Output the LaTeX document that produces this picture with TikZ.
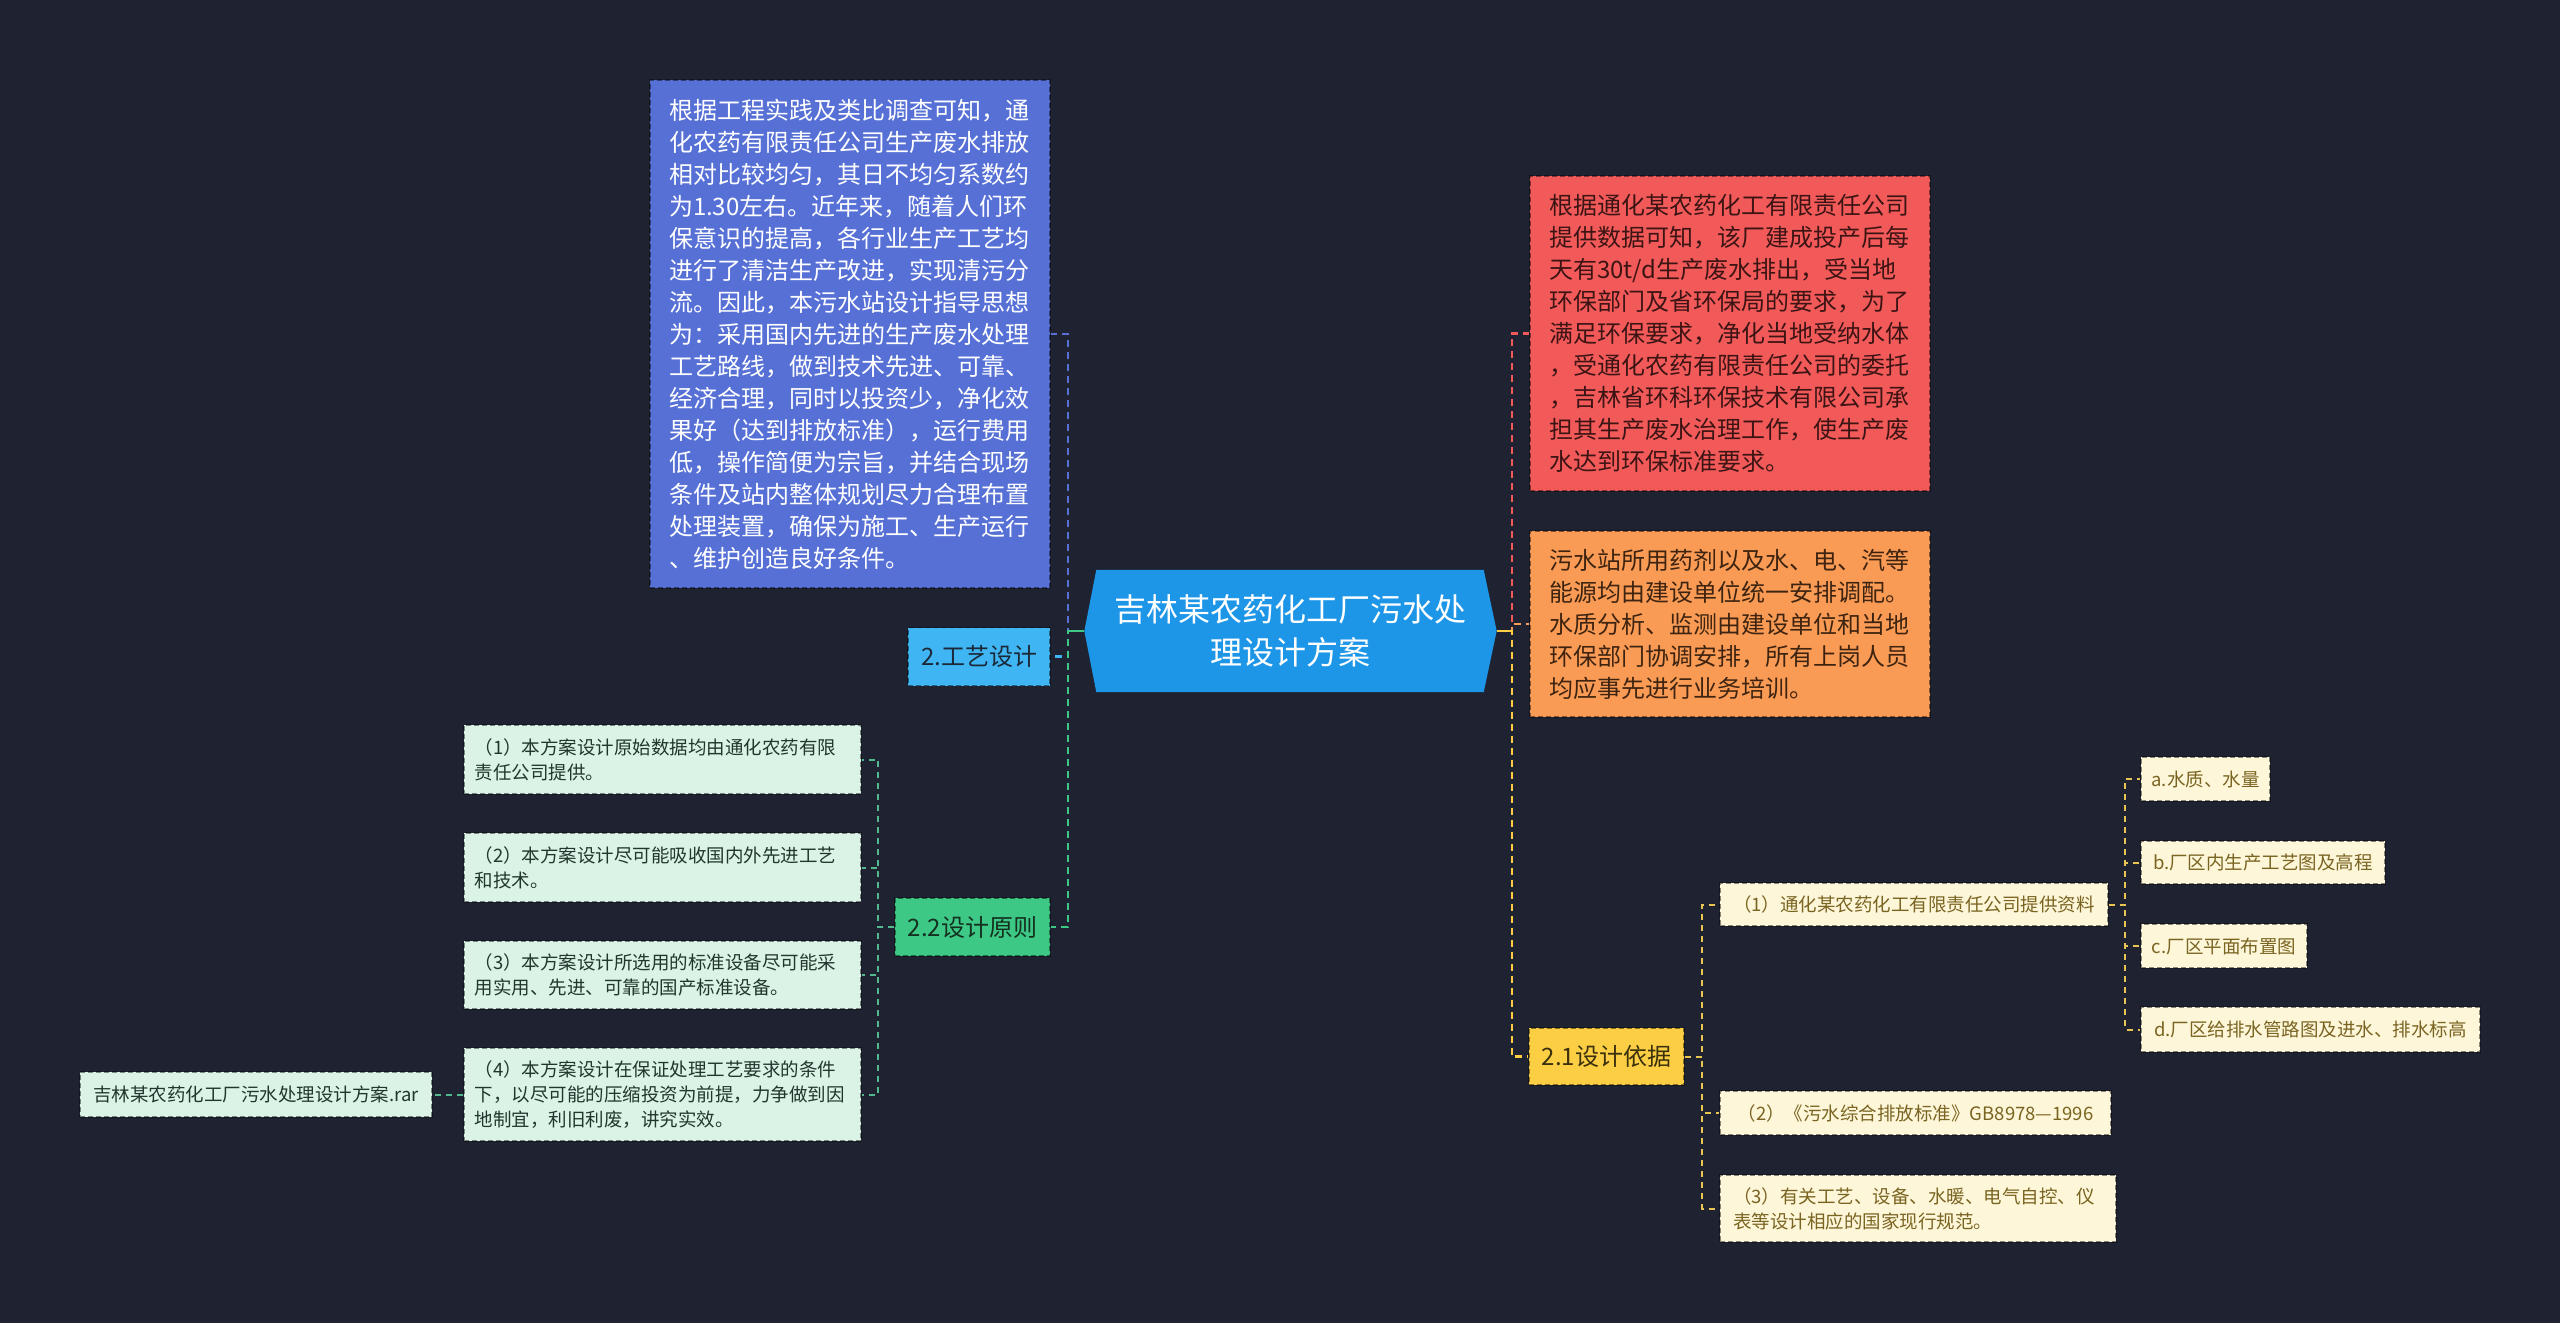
\documentclass[tikz,border=0pt]{standalone}
\usepackage{fontspec}
\setmainfont{Noto Sans CJK SC}
\definecolor{bgc}{HTML}{1F2230}
\definecolor{rootc}{HTML}{1E96E8}
\definecolor{bluec}{HTML}{5670D6}
\definecolor{lbluec}{HTML}{3FB6F3}
\definecolor{greenc}{HTML}{3EC886}
\definecolor{mintc}{HTML}{DAF3E6}
\definecolor{mintl}{HTML}{52B98E}
\definecolor{redc}{HTML}{F25A5A}
\definecolor{orangec}{HTML}{F99B55}
\definecolor{yellowc}{HTML}{FBCE44}
\definecolor{creamc}{HTML}{FDF6D8}
\definecolor{creaml}{HTML}{E8C552}
\definecolor{oliveT}{HTML}{7A6422}
\definecolor{lblueT}{HTML}{1B2838}
\definecolor{greenT}{HTML}{14301F}
\definecolor{mintT}{HTML}{21362C}
\definecolor{redT}{HTML}{3D1414}
\definecolor{orangeT}{HTML}{3E2410}
\definecolor{yellowT}{HTML}{3A300C}
\begin{document}
\begin{tikzpicture}[x=1pt,y=-1pt,
  box/.style={rectangle, inner sep=0pt, draw=black, draw opacity=0.45, line width=1.5pt, dash pattern=on 5pt off 3pt},
  big/.style={box, align=left, text width=362pt, font=\fontsize{24}{32}\selectfont},
  mid/.style={box, align=center, font=\fontsize{24}{30}\selectfont},
  small/.style={box, align=left, font=\fontsize{18.5}{25}\selectfont},
  conn/.style={line width=2.5pt, dash pattern=on 7pt off 5pt},
  sconn/.style={line width=2pt, dash pattern=on 6pt off 5pt}]
\fill[bgc] (0,0) rectangle (2560,1323);
\useasboundingbox (0,0) rectangle (2560,1323);

% root
\node[minimum width=412pt, minimum height=122pt, inner sep=0pt] (root) at (1290.5,631) {};
\fill[rootc] ([xshift=12pt]root.north west) -- ([xshift=-13pt]root.north east) -- (root.east)
  -- ([xshift=-13pt]root.south east) -- ([xshift=12pt]root.south west) -- (root.west) -- cycle;
\node[align=center, text=white, font=\fontsize{32}{43}\selectfont] (roottext) at (root.center) {吉林某农药化工厂污水处\\理设计方案};

% left side
\node[big, fill=bluec, text=white, minimum width=400pt, minimum height=508pt] (blue) at (850,334) {根据工程实践及类比调查可知，通\\化农药有限责任公司生产废水排放\\相对比较均匀，其日不均匀系数约\\为1.30左右。近年来，随着人们环\\保意识的提高，各行业生产工艺均\\进行了清洁生产改进，实现清污分\\流。因此，本污水站设计指导思想\\为：采用国内先进的生产废水处理\\工艺路线，做到技术先进、可靠、\\经济合理，同时以投资少，净化效\\果好（达到排放标准），运行费用\\低，操作简便为宗旨，并结合现场\\条件及站内整体规划尽力合理布置\\处理装置，确保为施工、生产运行\\、维护创造良好条件。};
\node[mid, fill=lbluec, text=lblueT, minimum width=142pt, minimum height=58pt] (n2) at (979,656.5) {2.工艺设计};
\node[mid, fill=greenc, text=greenT, minimum width=155pt, minimum height=58pt] (n22) at (972.5,927) {2.2设计原则};

\node[small, fill=mintc, text=mintT, text width=376pt, minimum width=397pt, minimum height=69pt] (g1) at (662.5,759.5) {（1）本方案设计原始数据均由通化农药有限\\责任公司提供。};
\node[small, fill=mintc, text=mintT, text width=376pt, minimum width=397pt, minimum height=69pt] (g2) at (662.5,867.5) {（2）本方案设计尽可能吸收国内外先进工艺\\和技术。};
\node[small, fill=mintc, text=mintT, text width=376pt, minimum width=397pt, minimum height=68pt] (g3) at (662.5,975) {（3）本方案设计所选用的标准设备尽可能采\\用实用、先进、可靠的国产标准设备。};
\node[small, fill=mintc, text=mintT, text width=376pt, minimum width=397pt, minimum height=93pt] (g4) at (662.5,1094.5) {（4）本方案设计在保证处理工艺要求的条件\\下，以尽可能的压缩投资为前提，力争做到因\\地制宜，利旧利废，讲究实效。};
\node[small, fill=mintc, text=mintT, align=center, minimum width=352pt, minimum height=45pt] (rar) at (256,1094.5) {吉林某农药化工厂污水处理设计方案.rar};

% right side
\node[big, fill=redc, text=redT, minimum width=400pt, minimum height=315pt] (red) at (1730,333.5) {根据通化某农药化工有限责任公司\\提供数据可知，该厂建成投产后每\\天有30t/d生产废水排出，受当地\\环保部门及省环保局的要求，为了\\满足环保要求，净化当地受纳水体\\，受通化农药有限责任公司的委托\\，吉林省环科环保技术有限公司承\\担其生产废水治理工作，使生产废\\水达到环保标准要求。};
\node[big, fill=orangec, text=orangeT, minimum width=400pt, minimum height=186pt] (orange) at (1730,624) {污水站所用药剂以及水、电、汽等\\能源均由建设单位统一安排调配。\\水质分析、监测由建设单位和当地\\环保部门协调安排，所有上岗人员\\均应事先进行业务培训。};
\node[mid, fill=yellowc, text=yellowT, minimum width=155pt, minimum height=57pt] (n21) at (1606.5,1056.5) {2.1设计依据};

\node[small, fill=creamc, text=oliveT, align=center, minimum width=388pt, minimum height=43pt] (s1) at (1914,904.5) {（1）通化某农药化工有限责任公司提供资料};
\node[small, fill=creamc, text=oliveT, align=center, minimum width=391pt, minimum height=44pt] (s2) at (1915.5,1113) {（2）《污水综合排放标准》GB8978—1996};
\node[small, fill=creamc, text=oliveT, text width=370pt, minimum width=396pt, minimum height=67pt] (s3) at (1918,1208.5) {（3）有关工艺、设备、水暖、电气自控、仪\\表等设计相应的国家现行规范。};
\node[small, fill=creamc, text=oliveT, align=center, minimum width=129pt, minimum height=44pt] (ta) at (2205.5,779) {a.水质、水量};
\node[small, fill=creamc, text=oliveT, align=center, minimum width=244pt, minimum height=43pt] (tb) at (2263,862.5) {b.厂区内生产工艺图及高程};
\node[small, fill=creamc, text=oliveT, align=center, minimum width=166pt, minimum height=44pt] (tc) at (2224,946) {c.厂区平面布置图};
\node[small, fill=creamc, text=oliveT, align=center, minimum width=339pt, minimum height=45pt] (td) at (2310.5,1029.5) {d.厂区给排水管路图及进水、排水标高};

% junctions
\coordinate (jl) at (1068,631);
\coordinate (jg) at (878,927);
\coordinate (jr) at (1512,631);
\coordinate (j21) at (1702,1056.5);
\coordinate (j1) at (2125,904.5);

% connectors left
\draw[conn, color=bluec] (root.west) -- (jl) |- (blue.east);
\draw[conn, color=lbluec] (root.west) -- (jl) |- (n2.east);
\draw[conn, color=greenc] (root.west) -- (jl) |- (n22.east);
\draw[line width=2.5pt, color=greenc] (root.west) -- (jl);
\foreach \g in {g1,g2,g3,g4} \draw[sconn, color=mintl] (n22.west) -- (jg) |- (\g.east);
\draw[sconn, color=mintl] (g4.west) -- (rar.east);

% connectors right
\draw[conn, color=redc] (root.east) -- (jr) |- (red.west);
\draw[conn, color=orangec] (root.east) -- (jr) |- (orange.west);
\draw[conn, color=yellowc] (root.east) -- (jr) |- (n21.west);
\draw[line width=2.5pt, color=yellowc] (root.east) -- (jr);
\foreach \s in {s1,s2,s3} \draw[sconn, color=creaml] (n21.east) -- (j21) |- (\s.west);
\foreach \t in {ta,tb,tc,td} \draw[sconn, color=creaml] (s1.east) -- (j1) |- (\t.west);
\end{tikzpicture}
\end{document}
